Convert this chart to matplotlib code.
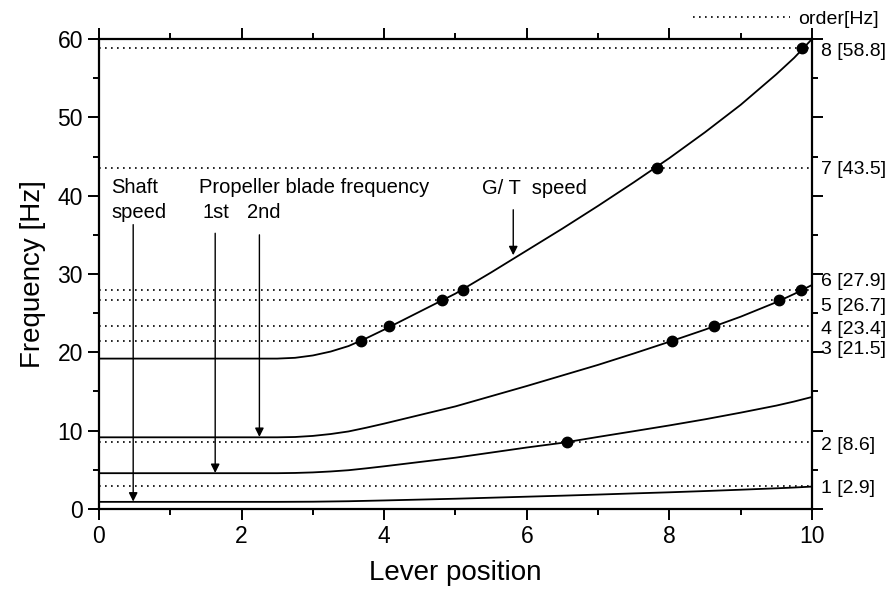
import matplotlib
matplotlib.use('Agg')
import matplotlib.pyplot as plt
from matplotlib.ticker import MultipleLocator

plt.rcParams['font.family'] = ['Liberation Sans', 'DejaVu Sans']

# ── Data ──
lever = [0, 1, 2, 2.5, 2.75, 3, 3.25, 3.5, 3.75, 4, 4.5, 5, 5.5, 6, 6.5,
         7, 7.5, 8, 8.5, 9, 9.5, 9.75, 10]
gt_speed = [19.2, 19.2, 19.2, 19.2, 19.3, 19.6, 20.1, 20.8, 21.8, 22.9, 25.2,
            27.5, 30.2, 33.0, 35.8, 38.7, 41.7, 44.8, 48.1, 51.6, 55.5, 57.6, 60.0]
blade_2nd = [9.15, 9.15, 9.15, 9.15, 9.19, 9.33, 9.57, 9.9, 10.38, 10.9, 12.0,
             13.1, 14.4, 15.7, 17.05, 18.4, 19.85, 21.35, 22.9, 24.55, 26.4,
             27.45, 28.6]
blade_1st = [4.57, 4.57, 4.57, 4.57, 4.6, 4.67, 4.79, 4.95, 5.19, 5.45, 6.0,
             6.55, 7.2, 7.85, 8.45, 9.2, 9.93, 10.67, 11.45, 12.3, 13.2, 13.72, 14.3]
shaft = [0.91, 0.91, 0.91, 0.91, 0.92, 0.93, 0.96, 0.99, 1.04, 1.09, 1.2,
         1.31, 1.44, 1.57, 1.7, 1.84, 1.99, 2.13, 2.29, 2.46, 2.64, 2.74, 2.86]

orders = [1, 2, 3, 4, 5, 6, 7, 8]
order_hz = [2.9, 8.6, 21.5, 23.4, 26.7, 27.9, 43.5, 58.8]

# crossing points (lever position, frequency)
cross_x = [3.67, 4.07, 4.81, 5.11, 7.82, 9.86, 8.03, 8.62, 9.54, 9.84, 6.56]
cross_y = [21.5, 23.4, 26.7, 27.9, 43.5, 58.8, 21.5, 23.4, 26.7, 27.9, 8.6]

# ── Figure ──
fig = plt.figure(figsize=(8.94, 6.01), dpi=100)
ax = fig.add_axes([0.1107, 0.1531, 0.7976, 0.782])

dot = (0, (1, 2.6))
for i, (o, hz) in enumerate(zip(orders, order_hz)):
    ax.axhline(hz, color='black', lw=1.2, ls=dot,
               label='order[Hz]' if i == 0 else None)

for ys in (gt_speed, blade_2nd, blade_1st, shaft):
    ax.plot(lever, ys, color='black', lw=1.3)

ax.plot(cross_x, cross_y, 'o', color='black', ms=7.5)

# right-hand order labels (nudged to avoid overlap)
label_y = [2.6, 8.1, 20.3, 22.9, 25.9, 29.0, 43.3, 58.4]
for o, hz, ly in zip(orders, order_hz, label_y):
    ax.text(10.12, ly, '{} [{}]'.format(o, hz), fontsize=14,
            va='center', ha='left', clip_on=False)

# annotations
fs = 14.5
ax.text(0.17, 41.0, 'Shaft', fontsize=fs, va='center')
ax.text(0.17, 37.8, 'speed', fontsize=fs, va='center')
ax.text(1.40, 41.0, 'Propeller blade frequency', fontsize=fs, va='center')
ax.text(1.45, 37.8, '1st', fontsize=fs, va='center')
ax.text(2.08, 37.8, '2nd', fontsize=fs, va='center')
ax.text(5.37, 40.9, 'G/ T  speed', fontsize=fs, va='center')

arrow = dict(arrowstyle='-|>', color='black', lw=1.0, mutation_scale=13,
             shrinkA=0, shrinkB=0)
for x0, y0, y1 in [(0.48, 36.3, 0.95), (1.63, 35.2, 4.6),
                   (2.25, 35.0, 9.2), (5.81, 38.2, 32.4)]:
    ax.annotate('', xy=(x0, y1), xytext=(x0, y0), arrowprops=arrow)

# axes styling
ax.set_xlim(0, 10)
ax.set_ylim(0, 60)
ax.xaxis.set_major_locator(MultipleLocator(2))
ax.xaxis.set_minor_locator(MultipleLocator(1))
ax.yaxis.set_major_locator(MultipleLocator(10))
ax.yaxis.set_minor_locator(MultipleLocator(5))
ax.tick_params(which='both', direction='out', top=True, right=True,
               width=1.4, labelsize=16.5)
ax.tick_params(which='major', length=8)
ax.tick_params(which='minor', length=4.5)
for sp in ax.spines.values():
    sp.set_linewidth(1.6)

ax.set_xlabel('Lever position', fontsize=20, labelpad=9)
ax.set_ylabel('Frequency [Hz]', fontsize=20, labelpad=8)

ax.legend(loc='center right', bbox_to_anchor=(1.093, 1.043), frameon=False,
          fontsize=14, handlelength=5.0, handletextpad=0.4, borderpad=0,
          borderaxespad=0)

fig.savefig('out.png', dpi=100)
